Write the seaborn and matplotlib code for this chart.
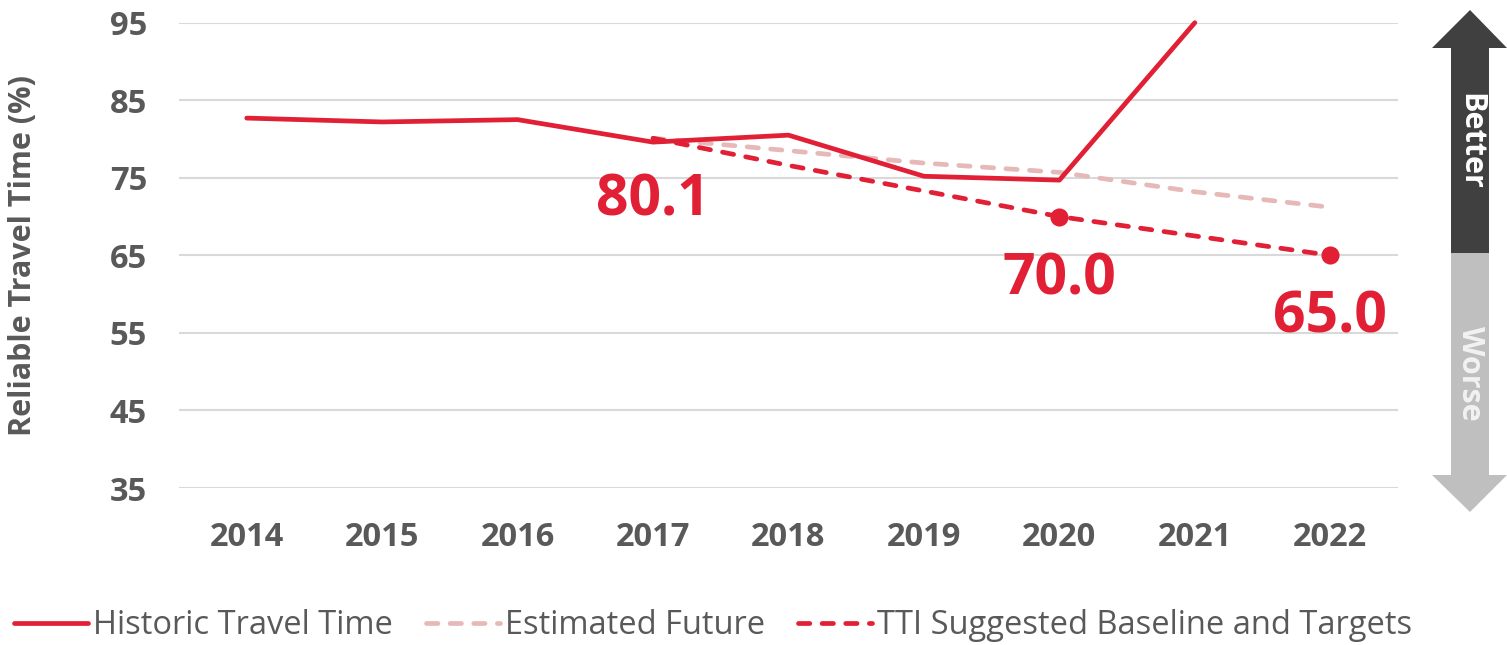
import matplotlib
matplotlib.use('Agg')
import matplotlib.pyplot as plt
import seaborn as sns
from matplotlib.patches import Polygon

# data
years = [2014, 2015, 2016, 2017, 2018, 2019, 2020, 2021, 2022]
historic_years = [2014, 2015, 2016, 2017, 2018, 2019, 2020, 2021]
historic = [82.7, 82.2, 82.5, 79.6, 80.5, 75.2, 74.7, 95.0]
future_years = [2017, 2018, 2019, 2020, 2021, 2022]
estimated = [80.1, 78.5, 76.9, 75.7, 73.2, 71.2]
tti = [80.1, 76.6, 73.3, 70.0, 67.5, 65.0]
target_years = [2020, 2022]
targets = [70.0, 65.0]
label_years = [2017, 2020, 2022]
label_values = [80.1, 70.0, 65.0]
y_ticks = [35, 45, 55, 65, 75, 85, 95]

RED = '#E11F35'
PINK = '#E6B9B8'
GREY_TEXT = '#595959'

sns.set_theme(style='white')
plt.rcParams['font.family'] = ['Open Sans', 'DejaVu Sans']

W, H = 1507, 645
fig, ax = plt.subplots(figsize=(W / 100, H / 100), dpi=100)
fig.subplots_adjust(left=179 / W, right=1398 / W, bottom=1 - 488 / H, top=1 - 22.7 / H)

sns.lineplot(x=historic_years, y=historic, ax=ax, color=RED, lw=3.4,
             solid_capstyle='round', label='Historic Travel Time', clip_on=False, zorder=4)
sns.lineplot(x=future_years, y=estimated, ax=ax, color=PINK, lw=3.4,
             linestyle=(0, (2.4, 2.6)), dash_capstyle='round', label='Estimated Future', zorder=3)
sns.lineplot(x=future_years, y=tti, ax=ax, color=RED, lw=3.4,
             linestyle=(0, (2.4, 2.6)), dash_capstyle='round',
             label='TTI Suggested Baseline and Targets', zorder=5)
sns.scatterplot(x=target_years, y=targets, ax=ax, color=RED, s=170, linewidth=0, zorder=6)

for yr, v in zip(label_years, label_values):
    ax.annotate(f'{v:.1f}', (yr, v), xytext=(0, -45), textcoords='offset points',
                ha='center', va='center', fontsize=41, fontweight='bold', color=RED)

ax.set_xlim(2013.5, 2022.5)
ax.set_ylim(35, 95)
ax.set_xticks(years)
ax.set_yticks(y_ticks)
ax.yaxis.grid(True, color='#d9d9d9', lw=1.5)
ax.xaxis.grid(False)
for s in ax.spines.values():
    s.set_visible(False)
ax.tick_params(axis='x', length=0, pad=24, labelsize=23.5, labelcolor=GREY_TEXT)
ax.tick_params(axis='y', length=0, pad=23, labelsize=23.5, labelcolor=GREY_TEXT)
for t in ax.get_xticklabels() + ax.get_yticklabels():
    t.set_fontweight('bold')

ax.set_ylabel('Reliable Travel Time (%)', fontsize=22, fontweight='bold', color=GREY_TEXT)
ax.yaxis.set_label_coords(-0.1157, 0.5)

handles, labels = ax.get_legend_handles_labels()
ax.get_legend().remove()
fig.legend(handles, labels, loc='center', bbox_to_anchor=(713 / W, 1 - 626 / H), ncol=3,
           frameon=False, fontsize=23.5, labelcolor=GREY_TEXT, handlelength=2.27,
           handletextpad=0.15, columnspacing=1.0)

# better / worse arrow on the right
def px(x, y):
    return (x / W, 1 - y / H)

top = [px(1470, 10), px(1507, 48), px(1489, 48), px(1489, 253), px(1451, 253), px(1451, 48), px(1432, 48)]
bottom = [px(1451, 253), px(1489, 253), px(1489, 475), px(1507, 475), px(1470, 512), px(1432, 475), px(1451, 475)]
fig.patches.append(Polygon(top, closed=True, facecolor='#404040', edgecolor='none', transform=fig.transFigure))
fig.patches.append(Polygon(bottom, closed=True, facecolor='#bfbfbf', edgecolor='none', transform=fig.transFigure))
fig.text(*px(1470, 141), 'Better', rotation=-90, ha='center', va='center', color='white',
         fontsize=22, fontweight='bold')
fig.text(*px(1470, 373), 'Worse', rotation=-90, ha='center', va='center', color='#f2f2f2',
         fontsize=22, fontweight='bold')

fig.savefig('out.png', dpi=100)
